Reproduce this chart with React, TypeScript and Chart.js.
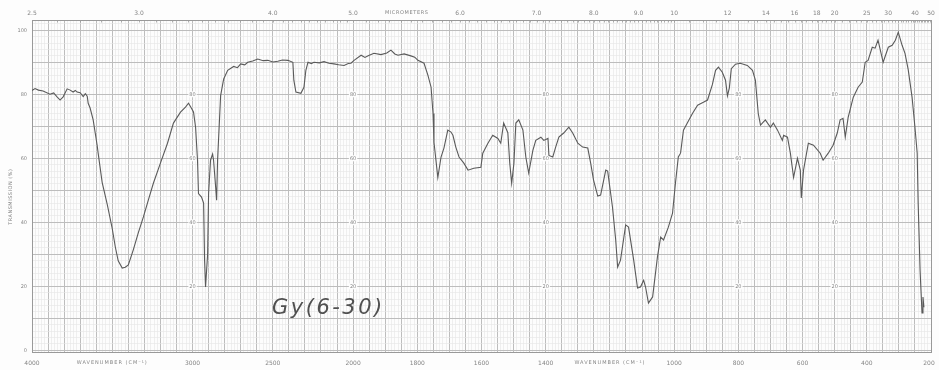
import React, { useEffect, useRef } from 'react';
import { Chart, registerables } from 'chart.js';

Chart.register(...registerables);

// Infrared transmission spectrum, wavenumber (cm-1) vs transmission (%)
const wavenumbers = [
  4000, 3981, 3960, 3931, 3888, 3865, 3844, 3825, 3806, 3781,
  3762, 3744, 3730, 3719, 3700, 3681, 3668, 3656, 3650, 3638,
  3619, 3594, 3588, 3563, 3531, 3500, 3481, 3463, 3438, 3419,
  3400, 3369, 3338, 3306, 3275, 3244, 3200, 3156, 3119, 3075,
  3044, 3025, 3013, 2994, 2981, 2969, 2963, 2944, 2931, 2925,
  2919, 2906, 2900, 2888, 2875, 2869, 2856, 2850, 2844, 2825,
  2806, 2781, 2744, 2720, 2700, 2675, 2656, 2625, 2594, 2560,
  2531, 2500, 2469, 2440, 2406, 2375, 2369, 2356, 2325, 2306,
  2294, 2281, 2260, 2244, 2210, 2181, 2150, 2119, 2090, 2056,
  2030, 2013, 1997, 1975, 1963, 1953, 1935, 1913, 1895, 1882,
  1870, 1860, 1841, 1820, 1808, 1798, 1779, 1767, 1757, 1751,
  1748, 1736, 1726, 1717, 1705, 1695, 1689, 1680, 1670, 1655,
  1642, 1624, 1602, 1596, 1580, 1565, 1549, 1540, 1531, 1518,
  1512, 1506, 1499, 1493, 1484, 1471, 1462, 1453, 1440, 1431,
  1415, 1406, 1393, 1390, 1378, 1369, 1359, 1344, 1328, 1316,
  1300, 1285, 1269, 1260, 1251, 1238, 1229, 1213, 1207, 1192,
  1182, 1176, 1167, 1151, 1142, 1126, 1114, 1105, 1095, 1089,
  1080, 1067, 1052, 1042, 1033, 1018, 1005, 996, 987, 980,
  971, 959, 943, 927, 909, 896, 881, 871, 862, 850,
  840, 834, 828, 822, 809, 794, 772, 756, 747, 738,
  731, 716, 700, 691, 678, 663, 659, 647, 638, 628,
  616, 607, 604, 597, 582, 566, 545, 536, 520, 505,
  492, 483, 474, 467, 458, 442, 427, 414, 405, 396,
  383, 374, 365, 349, 333, 321, 311, 302, 290, 281,
  271, 259, 250, 243, 240, 234, 228, 225, 222,
];

const transmission = [
  81.2, 81.8, 81.3, 81.0, 80.0, 80.4, 79.2, 78.2, 79.2, 81.7,
  81.3, 80.7, 81.2, 80.7, 80.5, 79.3, 80.2, 79.4, 77.2, 75.7,
  72.0, 64.0, 61.6, 52.5, 45.5, 38.0, 32.3, 28.0, 25.7, 26.0,
  26.7, 31.4, 36.7, 41.7, 47.0, 52.2, 58.5, 64.7, 71.0, 74.4,
  76.0, 77.2, 76.2, 74.5, 69.7, 59.4, 49.0, 47.9, 46.0, 28.2,
  19.8, 30.0, 49.0, 59.4, 61.3, 59.4, 51.0, 46.9, 59.4, 79.6,
  84.8, 87.5, 88.7, 88.3, 89.5, 89.2, 90.0, 90.4, 91.0, 90.5,
  90.6, 90.1, 90.3, 90.7, 90.6, 90.0, 84.4, 80.7, 80.3, 82.2,
  87.5, 90.0, 89.6, 90.0, 89.8, 90.2, 89.7, 89.5, 89.2, 89.0,
  89.6, 89.7, 90.6, 92.2, 91.5, 92.0, 92.8, 92.4, 92.9, 93.8,
  92.6, 92.2, 92.6, 92.0, 91.6, 90.6, 89.7, 86.0, 82.2, 74.0,
  65.0, 54.0, 60.4, 63.2, 68.8, 68.2, 67.2, 63.5, 60.4, 58.5,
  56.3, 56.9, 57.2, 61.6, 64.7, 67.2, 66.2, 64.7, 71.0, 68.0,
  58.5, 52.2, 58.5, 71.0, 72.0, 68.8, 60.4, 55.4, 62.5, 65.6,
  66.6, 65.6, 66.2, 60.9, 60.4, 63.5, 66.6, 67.9, 69.7, 67.9,
  64.7, 63.5, 63.2, 58.5, 53.2, 48.2, 48.5, 56.3, 56.0, 44.7,
  34.5, 26.0, 28.2, 39.2, 38.5, 28.2, 19.5, 19.8, 21.9, 19.8,
  14.8, 16.7, 29.2, 35.4, 34.5, 38.5, 42.9, 52.2, 60.4, 61.6,
  68.8, 71.0, 74.0, 76.6, 77.5, 78.2, 83.0, 87.5, 88.5, 86.9,
  84.4, 79.5, 82.0, 88.0, 89.4, 89.7, 89.0, 87.5, 84.4, 74.0,
  70.4, 72.0, 69.7, 71.0, 68.8, 65.6, 67.2, 66.6, 61.6, 54.0,
  60.0, 56.3, 47.6, 56.3, 64.7, 64.1, 61.6, 59.4, 61.6, 64.1,
  67.9, 72.0, 72.5, 66.6, 72.8, 79.1, 82.2, 83.8, 90.0, 90.6,
  94.7, 94.4, 96.9, 90.0, 94.7, 95.3, 96.9, 99.4, 95.3, 92.8,
  87.7, 79.1, 69.7, 61.6, 46.0, 25.0, 11.7, 16.7, 13.5,
];

// Axis annotations
const wavenumberTicks = [4000, 3000, 2500, 2000, 1800, 1600, 1400, 1000, 800, 600, 400, 200];
const wavenumberTitlePositions = [3500, 1200];
const micrometerTicks = [2.5, 3, 4, 5, 6, 7, 8, 9, 10, 12, 14, 16, 18, 20, 25, 30, 40, 50];
const percentTicks = [0, 20, 40, 60, 80, 100];
const innerColumns = [3000, 2000, 1400, 800, 500];
const innerValues = [20, 40, 60, 80];
const sampleName = 'Gy(6-30)';

const PAPER = '#fdfdfd';
const LABEL = '#858585';
const FONT = '"DejaVu Sans", "Liberation Sans", sans-serif';

// The chart paper changes scale at 2000 cm-1 (twice as wide per cm-1 below it)
function toU(wn: number): number {
  return wn >= 2000 ? 4000 - wn : 2000 + 2 * (2000 - wn);
}

const points = wavenumbers.map((wn, i) => ({ x: toU(wn), y: transmission[i] }));

const xGrid: number[] = [];
for (let u = 0; u <= 5600; u += 20) xGrid.push(u);
const yGrid: number[] = [];
for (let v = 0; v <= 102; v += 2) yGrid.push(v);

const micronMinor: number[] = [];
for (let m = 25; m <= 100; m += 1) micronMinor.push(m / 10);
for (let m = 21; m <= 40; m += 1) micronMinor.push(m / 2);
for (let m = 21; m <= 50; m += 1) micronMinor.push(m);

const paperText = {
  id: 'paperText',
  beforeDatasetsDraw(chart: any) {
    const { ctx } = chart;
    const xs = chart.scales.x;
    const ys = chart.scales.y;
    ctx.save();
    ctx.font = `5px ${FONT}`;
    ctx.textAlign = 'center';
    ctx.textBaseline = 'middle';
    for (const col of innerColumns) {
      for (const v of innerValues) {
        const px = xs.getPixelForValue(toU(col));
        const py = ys.getPixelForValue(v);
        const w = ctx.measureText(String(v)).width;
        ctx.fillStyle = PAPER;
        ctx.fillRect(px - w / 2 - 1, py - 3, w + 2, 6);
        ctx.fillStyle = LABEL;
        ctx.fillText(String(v), px, py);
      }
    }
    ctx.restore();
  },
  afterDraw(chart: any) {
    const { ctx, chartArea } = chart;
    const xs = chart.scales.x;
    const ys = chart.scales.y;
    ctx.save();

    // micrometer tick marks along the top edge
    ctx.strokeStyle = '#9a9a9a';
    ctx.lineWidth = 0.8;
    ctx.beginPath();
    for (const m of micronMinor) {
      const px = Math.round(xs.getPixelForValue(toU(10000 / m))) + 0.5;
      ctx.moveTo(px, chartArea.top);
      ctx.lineTo(px, chartArea.top + 2.5);
    }
    ctx.stroke();

    ctx.fillStyle = LABEL;
    ctx.textBaseline = 'middle';
    ctx.textAlign = 'center';
    ctx.font = `6px ${FONT}`;

    // micrometer labels
    for (const m of micrometerTicks) {
      const txt = m < 10 ? m.toFixed(1) : String(m);
      ctx.fillText(txt, xs.getPixelForValue(toU(10000 / m)), chartArea.top - 7);
    }
    ctx.save();
    ctx.font = `5px ${FONT}`;
    (ctx as any).letterSpacing = '0.6px';
    ctx.fillText('MICROMETERS', xs.getPixelForValue(toU(1833)), chartArea.top - 7);
    ctx.restore();

    // wavenumber labels
    for (const wn of wavenumberTicks) {
      let px = xs.getPixelForValue(toU(wn));
      if (wn === 200) px -= 2;
      ctx.fillText(String(wn), px, chartArea.bottom + 11);
    }
    ctx.save();
    ctx.font = `5px ${FONT}`;
    (ctx as any).letterSpacing = '1px';
    for (const wn of wavenumberTitlePositions) {
      ctx.fillText('WAVENUMBER (CM⁻¹)', xs.getPixelForValue(toU(wn)), chartArea.bottom + 11);
    }
    ctx.restore();

    // transmission labels
    ctx.textAlign = 'right';
    ctx.font = `5px ${FONT}`;
    for (const v of percentTicks) {
      ctx.fillText(String(v), chartArea.left - 5, ys.getPixelForValue(v));
    }
    ctx.save();
    ctx.translate(11, ys.getPixelForValue(48));
    ctx.rotate(-Math.PI / 2);
    ctx.textAlign = 'center';
    ctx.font = `5px ${FONT}`;
    (ctx as any).letterSpacing = '0.5px';
    ctx.fillText('TRANSMISSION (%)', 0, 0);
    ctx.restore();

    // sample name
    ctx.save();
    ctx.font = `italic 21px ${FONT}`;
    (ctx as any).letterSpacing = '2.5px';
    ctx.fillStyle = '#505050';
    ctx.textAlign = 'left';
    ctx.textBaseline = 'alphabetic';
    ctx.fillText(sampleName, xs.getPixelForValue(toU(2505)), ys.getPixelForValue(11.4));
    ctx.restore();

    ctx.restore();
  },
};

const hiddenTicks = { display: false };

export default function App() {
  const ref = useRef<HTMLCanvasElement>(null);

  useEffect(() => {
    document.body.style.margin = '0';
    const canvas = ref.current;
    if (!canvas) return;
    const chart = new Chart(canvas, {
      type: 'line',
      data: {
        datasets: [
          {
            data: points,
            borderColor: '#5a5a5a',
            borderWidth: 1.1,
            pointRadius: 0,
            tension: 0,
            fill: false,
          },
        ],
      },
      options: {
        animation: false,
        responsive: false,
        devicePixelRatio: 1,
        parsing: false,
        layout: { padding: { left: 32, right: 8, top: 20, bottom: 18 } },
        plugins: { legend: { display: false }, tooltip: { enabled: false } },
        scales: {
          x: {
            type: 'linear',
            position: 'bottom',
            min: 0,
            max: 5600,
            afterFit: (s: any) => { s.height = 0; },
            afterBuildTicks: (s: any) => { s.ticks = xGrid.map((v) => ({ value: v })); },
            ticks: hiddenTicks,
            grid: {
              drawTicks: false,
              color: (c: any) => (c.tick && c.tick.value % 100 === 0 ? '#bdbdbd' : '#e5e5e5'),
              lineWidth: (c: any) => (c.tick && c.tick.value % 100 === 0 ? 1 : 0.6),
            },
            border: { display: true, color: '#999999', width: 1 },
          },
          xTop: {
            type: 'linear',
            position: 'top',
            min: 0,
            max: 5600,
            afterFit: (s: any) => { s.height = 0; },
            ticks: hiddenTicks,
            grid: { drawOnChartArea: false, drawTicks: false },
            border: { display: true, color: '#999999', width: 1 },
          },
          y: {
            type: 'linear',
            position: 'left',
            min: -0.5,
            max: 103.2,
            afterFit: (s: any) => { s.width = 0; },
            afterBuildTicks: (s: any) => { s.ticks = yGrid.map((v) => ({ value: v })); },
            ticks: hiddenTicks,
            grid: {
              drawTicks: false,
              color: (c: any) => (c.tick && c.tick.value % 10 === 0 ? '#bdbdbd' : '#e5e5e5'),
              lineWidth: (c: any) => (c.tick && c.tick.value % 10 === 0 ? 1 : 0.6),
            },
            border: { display: true, color: '#999999', width: 1 },
          },
          yRight: {
            type: 'linear',
            position: 'right',
            min: -0.5,
            max: 103.2,
            afterFit: (s: any) => { s.width = 0; },
            ticks: hiddenTicks,
            grid: { drawOnChartArea: false, drawTicks: false },
            border: { display: true, color: '#999999', width: 1 },
          },
        },
      },
      plugins: [paperText],
    } as any);
    return () => chart.destroy();
  }, []);

  return (
    <div style={{ width: 939, height: 370, background: PAPER }}>
      <canvas ref={ref} width={939} height={370} style={{ display: 'block' }} />
    </div>
  );
}
